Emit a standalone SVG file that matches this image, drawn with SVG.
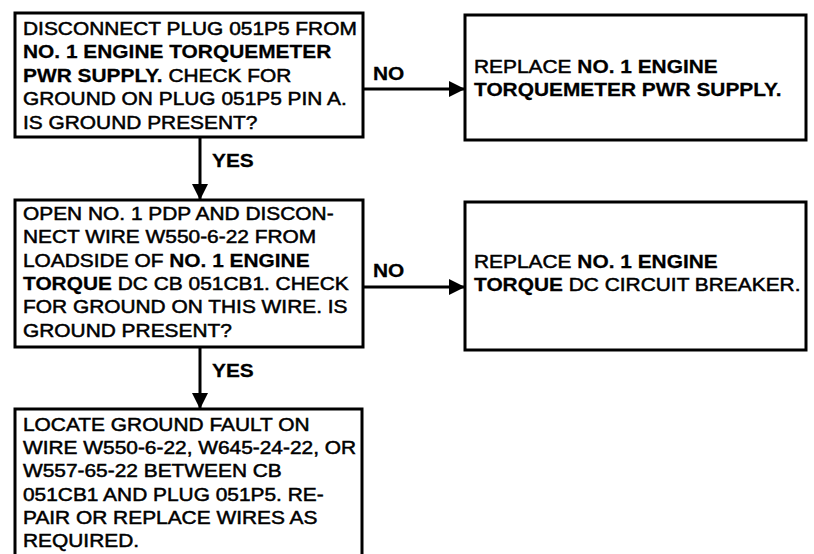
<svg xmlns="http://www.w3.org/2000/svg" width="814" height="554" viewBox="0 0 814 554">
<style>
.box{fill:#fff;stroke:#000;stroke-width:3}
.t{font-family:"Liberation Sans",Arial,Helvetica,sans-serif;font-size:18.5px;fill:#000;stroke:#000;stroke-width:0.5}
.b{font-weight:bold;stroke-width:0.25}
.c{stroke:#000;stroke-width:3;fill:none}
</style>
<defs>
<marker id="ah" markerUnits="userSpaceOnUse" markerWidth="18" markerHeight="16" refX="16" refY="8" orient="auto">
<path d="M0,0 L16,8 L0,16 Z" fill="#000"/>
</marker>
</defs>
<rect width="814" height="554" fill="#fff"/>

<g id="n1">
<rect class="box" x="15" y="13" width="348" height="124"/>
<g transform="translate(23,0) scale(1.13,1)">
<text class="t" x="0" y="35">DISCONNECT PLUG 051P5 FROM</text>
<text class="t b" x="0" y="58.5">NO. 1 ENGINE TORQUEMETER</text>
<text class="t" x="0" y="82"><tspan class="b">PWR SUPPLY.</tspan> CHECK FOR</text>
<text class="t" x="0" y="105.5">GROUND ON PLUG 051P5 PIN A.</text>
<text class="t" x="0" y="129">IS GROUND PRESENT?</text>
</g>
</g>

<g id="n2">
<rect class="box" x="465" y="15" width="341" height="125"/>
<g transform="translate(474,0) scale(1.13,1)">
<text class="t" x="0" y="73">REPLACE <tspan class="b">NO. 1 ENGINE</tspan></text>
<text class="t b" x="0" y="96">TORQUEMETER PWR SUPPLY.</text>
</g>
</g>

<g id="n3">
<rect class="box" x="15" y="200" width="348" height="147"/>
<g transform="translate(23,0) scale(1.13,1)">
<text class="t" x="0" y="220">OPEN NO. 1 PDP AND DISCON-</text>
<text class="t" x="0" y="243">NECT WIRE W550-6-22 FROM</text>
<text class="t" x="0" y="267">LOADSIDE OF <tspan class="b">NO. 1 ENGINE</tspan></text>
<text class="t" x="0" y="290"><tspan class="b">TORQUE</tspan> DC CB 051CB1. CHECK</text>
<text class="t" x="0" y="313">FOR GROUND ON THIS WIRE. IS</text>
<text class="t" x="0" y="337">GROUND PRESENT?</text>
</g>
</g>

<g id="n4">
<rect class="box" x="465" y="202" width="341" height="148"/>
<g transform="translate(474,0) scale(1.13,1)">
<text class="t" x="0" y="268">REPLACE <tspan class="b">NO. 1 ENGINE</tspan></text>
<text class="t" x="0" y="291"><tspan class="b">TORQUE</tspan> DC CIRCUIT BREAKER.</text>
</g>
</g>

<g id="n5">
<rect class="box" x="15" y="409" width="347" height="170"/>
<g transform="translate(23,0) scale(1.13,1)">
<text class="t" x="0" y="431">LOCATE GROUND FAULT ON</text>
<text class="t" x="0" y="454">WIRE W550-6-22, W645-24-22, OR</text>
<text class="t" x="0" y="477">W557-65-22 BETWEEN CB</text>
<text class="t" x="0" y="501">051CB1 AND PLUG 051P5. RE-</text>
<text class="t" x="0" y="524">PAIR OR REPLACE WIRES AS</text>
<text class="t" x="0" y="547">REQUIRED.</text>
</g>
</g>

<g id="connectors">
<line class="c" x1="363" y1="89" x2="465" y2="89" marker-end="url(#ah)"/>
<line class="c" x1="363" y1="287" x2="465" y2="287" marker-end="url(#ah)"/>
<line class="c" x1="200" y1="137" x2="200" y2="200" marker-end="url(#ah)"/>
<line class="c" x1="200" y1="347" x2="200" y2="409" marker-end="url(#ah)"/>
<g transform="translate(373,0) scale(1.13,1)">
<text class="t b" x="0" y="80">NO</text>
<text class="t b" x="0" y="277">NO</text>
</g>
<g transform="translate(212,0) scale(1.13,1)">
<text class="t b" x="0" y="167">YES</text>
<text class="t b" x="0" y="377">YES</text>
</g>
</g>
</svg>
